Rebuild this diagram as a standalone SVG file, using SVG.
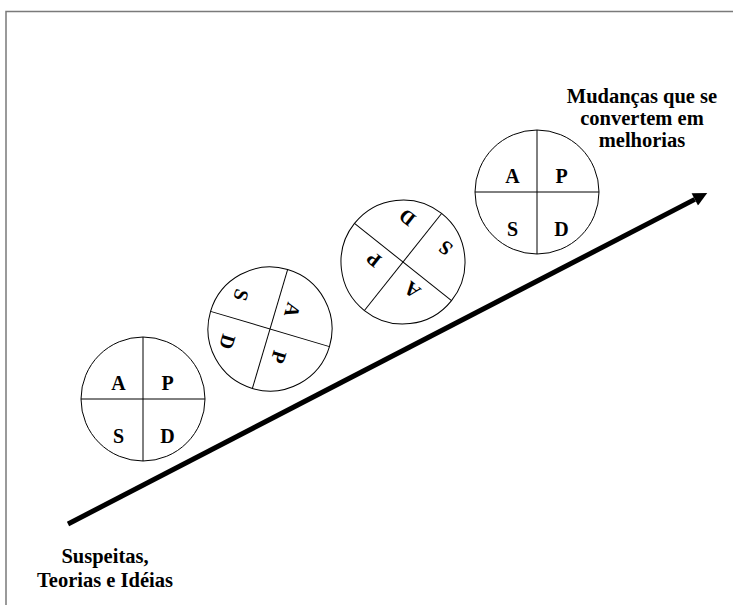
<svg xmlns="http://www.w3.org/2000/svg" width="733" height="605" viewBox="0 0 733 605">
  <style>
    .frame { fill: none; stroke: #7a7a7a; stroke-width: 1.5; }
    .disc { fill: #ffffff; stroke: #000000; stroke-width: 1; }
    .div { stroke: #000000; stroke-width: 1; }
    .q { font-family: "Liberation Serif", "Times New Roman", serif; font-weight: bold; font-size: 20px; text-anchor: middle; fill: #000000; }
    .lbl { font-family: "Liberation Serif", "Times New Roman", serif; font-weight: bold; font-size: 20.5px; text-anchor: middle; fill: #000000; }
    .trend { stroke: #000000; stroke-width: 5; fill: none; }
  </style>
  <defs>
    <!-- one PDCA wheel, centred on the origin -->
    <g id="wheel">
      <circle class="disc" cx="0" cy="0" r="62"/>
      <line class="div" x1="-62" y1="0" x2="62" y2="0"/>
      <line class="div" x1="0" y1="-62" x2="0" y2="62"/>
      <text class="q" x="-24.5" y="-9.5">A</text>
      <text class="q" x="24.5" y="-9.5">P</text>
      <text class="q" x="-24.5" y="44">S</text>
      <text class="q" x="24.5" y="44">D</text>
    </g>
    <marker id="head" viewBox="0 0 10 10" refX="0" refY="5" markerWidth="3.2" markerHeight="2.8" orient="auto" markerUnits="strokeWidth">
      <path d="M0,0 L10,5 L0,10 Z" fill="#000000"/>
    </marker>
  </defs>

  <!-- page frame -->
  <path class="frame" d="M6,605 V11.5 H733"/>

  <!-- rising improvement arrow -->
  <g id="connectors">
    <line class="trend" x1="68" y1="524" x2="694.8" y2="199.4" marker-end="url(#head)"/>
  </g>

  <!-- successive PDCA turns -->
  <g id="cycle1">
    <use href="#wheel" transform="translate(143 399)"/>
  </g>
  <g id="cycle2">
    <use href="#wheel" transform="translate(270 329) rotate(106.5)"/>
  </g>
  <g id="cycle3">
    <use href="#wheel" transform="translate(403 262) rotate(218.5)"/>
  </g>
  <g id="cycle4">
    <use href="#wheel" transform="translate(537 192)"/>
  </g>

  <!-- end labels -->
  <g id="label-start">
    <text class="lbl" x="105" y="563">Suspeitas,</text>
    <text class="lbl" x="105" y="587">Teorias e Idéias</text>
  </g>
  <g id="label-end">
    <text class="lbl" x="642" y="103">Mudanças que se</text>
    <text class="lbl" x="642" y="125">convertem em</text>
    <text class="lbl" x="642" y="147">melhorias</text>
  </g>
</svg>
